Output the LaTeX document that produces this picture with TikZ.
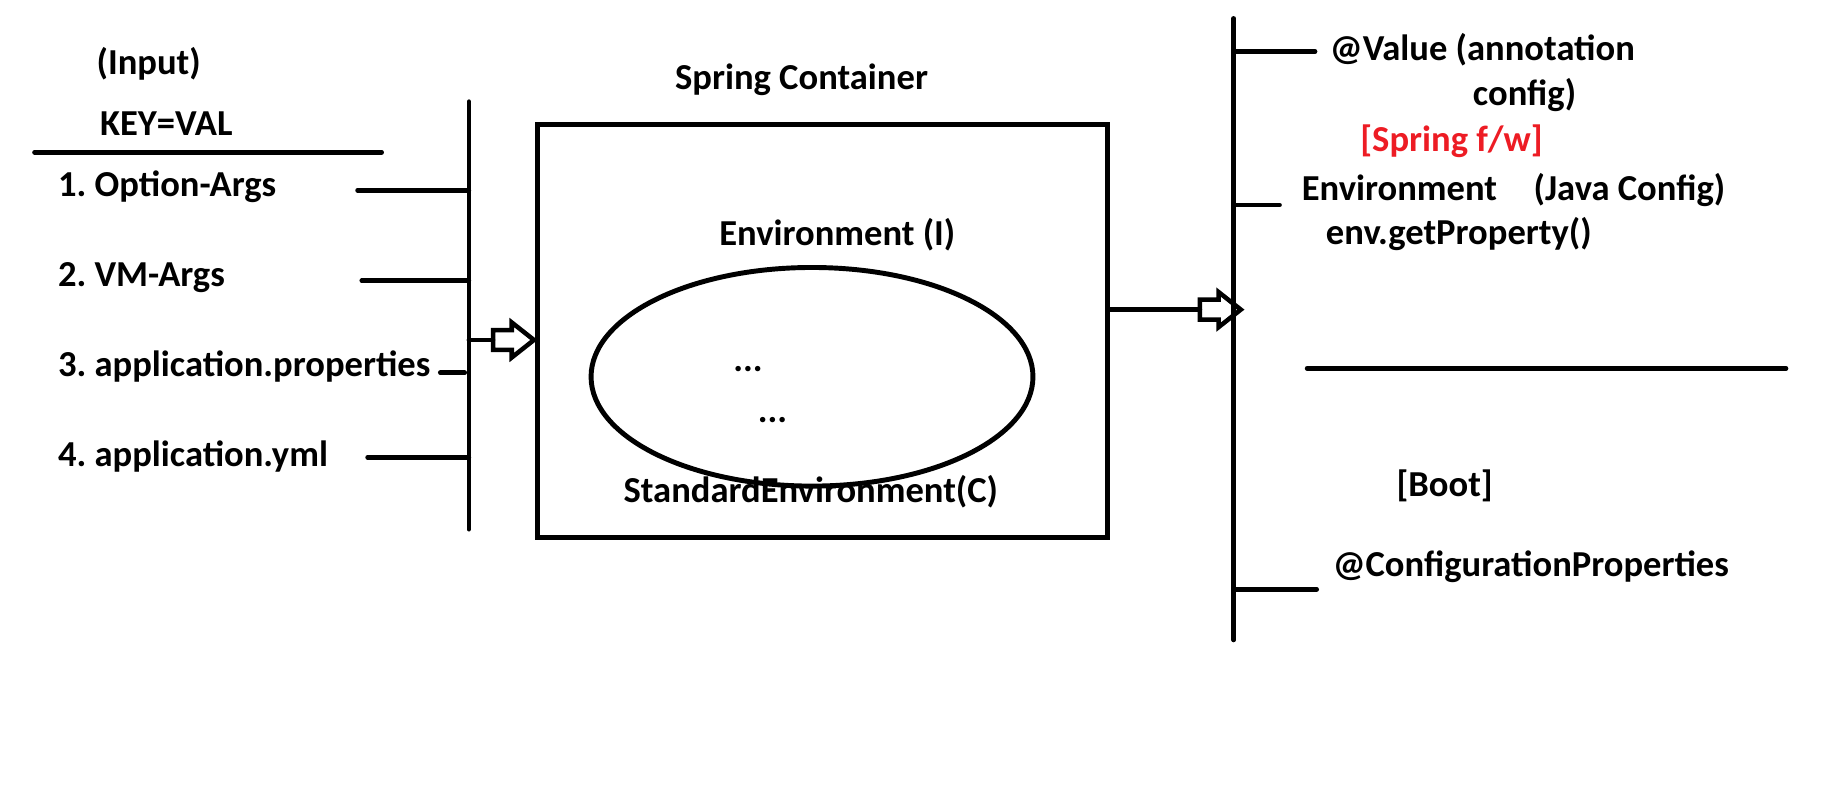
\documentclass[tikz,border=0pt]{standalone}
\usepackage{fontspec}
\setmainfont{Carlito}
\usetikzlibrary{calc}
\usetikzlibrary{shapes.geometric}
\definecolor{fwred}{RGB}{237,28,36}

% seta vazada (em bloco) a partir da base
\newcommand{\setaoca}[1]{%
  \draw[linha, line cap=butt, line join=miter] (#1) -- ++(0,-8.5) -- ++(16,0) -- ++(0,-6.5)
    -- ++(19,15) -- ++(-19,15) -- ++(0,-6.5) -- ++(-16,0) -- cycle;}

\begin{document}
\frenchspacing
\begin{tikzpicture}[
    % Unidades em pixels da figura
    x=0.01cm, y=-0.01cm,
    % Estilo padrão dos textos
    every node/.style={font=\fontsize{8.9}{11}\selectfont\bfseries, inner sep=0pt},
    rotulo/.style={anchor=base west},
    linha/.style={line width=1.1pt, line cap=round}
  ]
  \useasboundingbox (0,0) rectangle (1568,674);

  % Entradas (lado esquerdo)
  \node[rotulo] (input) at (82,64) {(Input)};
  \node[rotulo] (keyval) at (85,115.6) {KEY=VAL};
  \coordinate (sepA) at (29.5,130.4);
  \coordinate (sepB) at (326.7,130.4);
  \draw[linha] (sepA) -- (sepB);

  \node[rotulo] (opt) at (49,168.3) {1. Option-Args};
  \node[rotulo] (vm) at (49,245.4) {2. VM-Args};
  \node[rotulo] (props) at (49,321.9) {3. application.properties};
  \node[rotulo] (yml) at (49,398.9) {4. application.yml};

  % Barramento da esquerda
  \coordinate (busLtop) at (401.3,87);
  \coordinate (busLbot) at (401.3,453);
  \draw[linha] (busLtop) -- (busLbot);
  \coordinate (optEnd) at (306,163);
  \coordinate (vmEnd) at (309.6,240.2);
  \coordinate (propsEnd) at (376.8,319);
  \coordinate (ymlEnd) at (314.6,391.5);
  \draw[linha] (optEnd) -- (optEnd -| busLtop);
  \draw[linha] (vmEnd) -- (vmEnd -| busLtop);
  \draw[linha] (propsEnd) -- ++(21,0);
  \draw[linha] (ymlEnd) -- (ymlEnd -| busLtop);

  % Spring Container
  \node[anchor=base] (title) at (686,77) {Spring Container};
  \node[draw, line width=1.2pt, minimum width=4.88cm, minimum height=3.53cm] (container) at (704,283.5) {};
  \node[rotulo] (envI) at (615,210) {Environment (I)};
  \node[ellipse, draw, line width=1.2pt, minimum width=3.78cm, minimum height=1.87cm] (stdenv) at (695,322.5) {};
  \node[rotulo] (dotsA) at (627,318) {...};
  \node[rotulo] (dotsB) at (648,362) {...};
  \node[rotulo] (stdC) at (533,430) {StandardEnvironment(C)};

  % Seta de entrada
  \coordinate (inL) at (401.3,291);
  \coordinate (inLa) at (422,291);
  \draw[linha] (inL) -- (inLa);
  \setaoca{inLa}

  % Seta de saída
  \coordinate (outRa) at (1027,265);
  \draw[linha] (container.east |- outRa) -- (outRa);
  \setaoca{outRa}

  % Barramento da direita
  \coordinate (busRtop) at (1055.9,15.7);
  \coordinate (busRbot) at (1055.9,547.8);
  \draw[linha] (busRtop) -- (busRbot);
  \coordinate (valEnd) at (1125.6,44.2);
  \coordinate (envEnd) at (1095.2,175.5);
  \coordinate (cfgEnd) at (1127,504.5);
  \draw[linha] (valEnd -| busRtop) -- (valEnd);
  \draw[linha] (envEnd -| busRtop) -- (envEnd);
  \draw[linha] (cfgEnd -| busRtop) -- (cfgEnd);

  % Saídas (lado direito)
  \node[rotulo] (value) at (1137.6,51.4) {@Value (annotation};
  \node[rotulo] (valcfg) at (1260,89.9) {config)};
  \node[rotulo, text=fwred] (fw) at (1163.6,129.8) {[Spring f/w]};
  \node[rotulo] (envR) at (1113.5,171.2) {Environment};
  \node[rotulo] (javacfg) at (1312,171.2) {(Java Config)};
  \node[rotulo] (getprop) at (1134.2,209.7) {env.getProperty()};
  \coordinate (sepC) at (1118.7,315.3);
  \coordinate (sepD) at (1528.7,315.3);
  \draw[linha] (sepC) -- (sepD);
  \node[rotulo] (boot) at (1194.6,425) {[Boot]};
  \node[rotulo] (cfgprops) at (1140,493.6) {@ConfigurationProperties};
\end{tikzpicture}
\end{document}
